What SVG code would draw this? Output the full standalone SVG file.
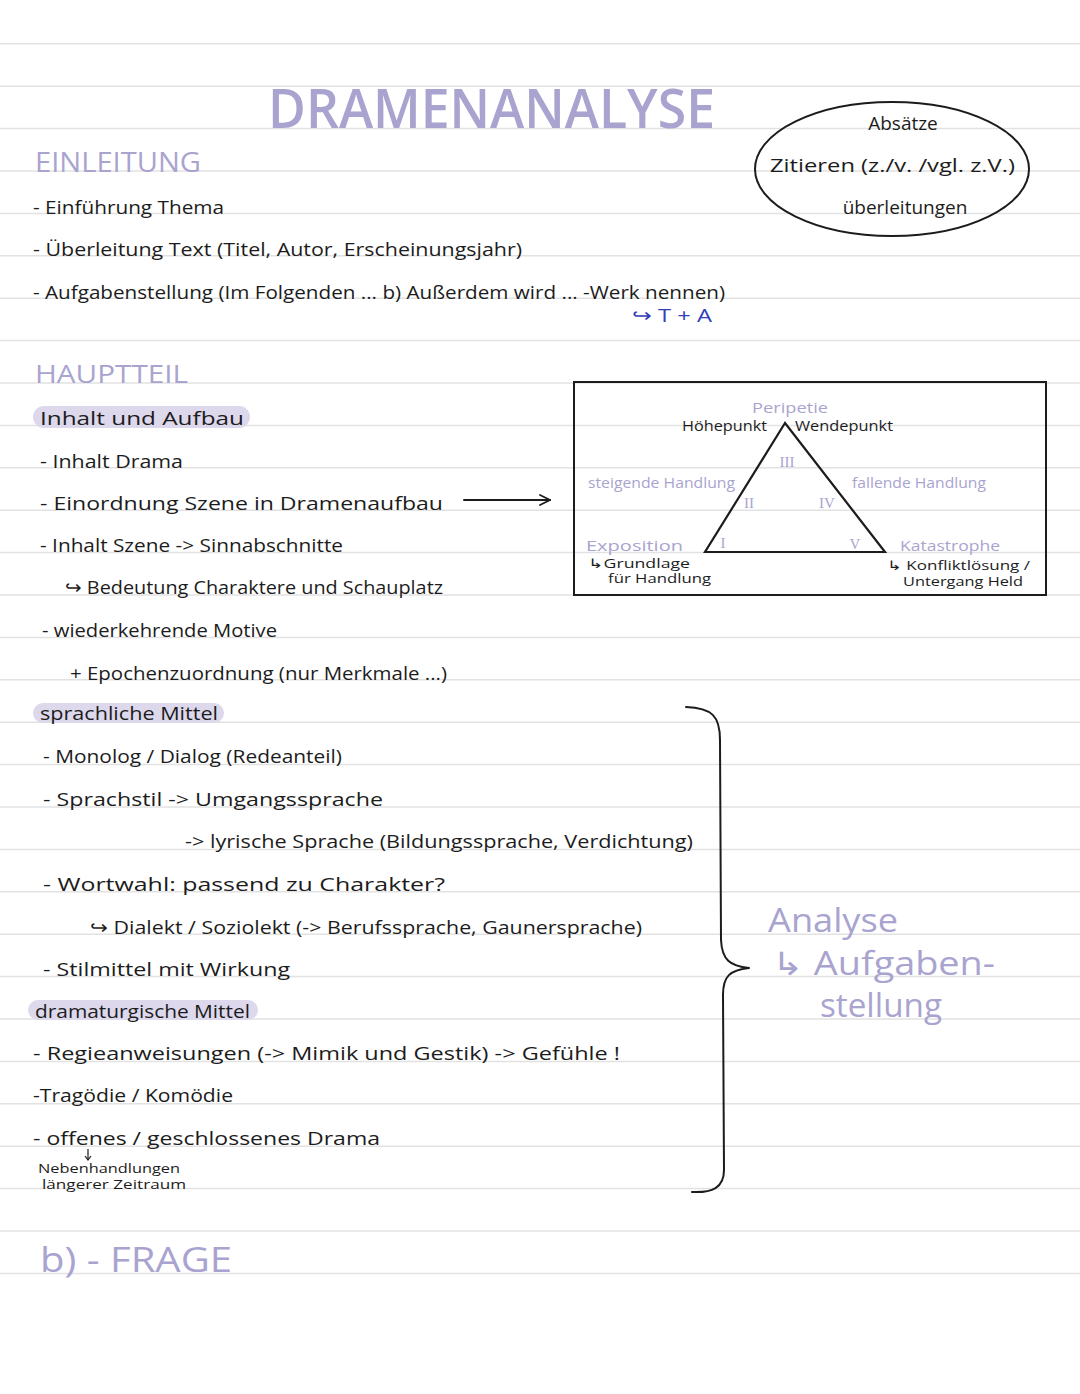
<svg xmlns="http://www.w3.org/2000/svg" width="1080" height="1394" viewBox="0 0 1080 1394">
<style>
  .rule{stroke:#e2e2e2;stroke-width:1.5}
  text{font-family:"Open Sans","Liberation Sans",sans-serif;fill:#1c1c1c}
  .t{font-size:19px}
  .s{font-size:15px}
  .xs{font-size:12.5px}
  .p{fill:#a9a4cf}
  .hl{fill:#ddd8ec}
  .blue{fill:#3340b8}
  .ln{fill:none;stroke:#1c1c1c;stroke-width:2;stroke-linecap:round;stroke-linejoin:round}
  .roman{font-family:"Liberation Serif",serif;font-size:15px;fill:#a9a4cf}
</style>
<defs>
  <marker id="open" viewBox="0 0 12 12" refX="11" refY="6" markerWidth="12" markerHeight="12" markerUnits="userSpaceOnUse" orient="auto">
    <path d="M1,1 L11,6 L1,11" fill="none" stroke="#1c1c1c" stroke-width="1.8" stroke-linecap="round"/>
  </marker>
  <marker id="small" viewBox="0 0 8 8" refX="4" refY="7" markerWidth="8" markerHeight="8" markerUnits="userSpaceOnUse" orient="0">
    <path d="M1,3 L4,7 L7,3" fill="none" stroke="#1c1c1c" stroke-width="1.2"/>
  </marker>
</defs>
<rect width="1080" height="1394" fill="#ffffff"/>
<g id="rules">
  <line class="rule" x1="0" x2="1080" y1="43.8" y2="43.8"/>
  <line class="rule" x1="0" x2="1080" y1="86.2" y2="86.2"/>
  <line class="rule" x1="0" x2="1080" y1="128.6" y2="128.6"/>
  <line class="rule" x1="0" x2="1080" y1="171" y2="171"/>
  <line class="rule" x1="0" x2="1080" y1="213.4" y2="213.4"/>
  <line class="rule" x1="0" x2="1080" y1="255.8" y2="255.8"/>
  <line class="rule" x1="0" x2="1080" y1="298.2" y2="298.2"/>
  <line class="rule" x1="0" x2="1080" y1="340.6" y2="340.6"/>
  <line class="rule" x1="0" x2="1080" y1="383" y2="383"/>
  <line class="rule" x1="0" x2="1080" y1="425.4" y2="425.4"/>
  <line class="rule" x1="0" x2="1080" y1="467.8" y2="467.8"/>
  <line class="rule" x1="0" x2="1080" y1="510.2" y2="510.2"/>
  <line class="rule" x1="0" x2="1080" y1="552.6" y2="552.6"/>
  <line class="rule" x1="0" x2="1080" y1="595" y2="595"/>
  <line class="rule" x1="0" x2="1080" y1="637.4" y2="637.4"/>
  <line class="rule" x1="0" x2="1080" y1="679.8" y2="679.8"/>
  <line class="rule" x1="0" x2="1080" y1="722.2" y2="722.2"/>
  <line class="rule" x1="0" x2="1080" y1="764.6" y2="764.6"/>
  <line class="rule" x1="0" x2="1080" y1="807" y2="807"/>
  <line class="rule" x1="0" x2="1080" y1="849.4" y2="849.4"/>
  <line class="rule" x1="0" x2="1080" y1="891.8" y2="891.8"/>
  <line class="rule" x1="0" x2="1080" y1="934.2" y2="934.2"/>
  <line class="rule" x1="0" x2="1080" y1="976.6" y2="976.6"/>
  <line class="rule" x1="0" x2="1080" y1="1019" y2="1019"/>
  <line class="rule" x1="0" x2="1080" y1="1061.4" y2="1061.4"/>
  <line class="rule" x1="0" x2="1080" y1="1103.8" y2="1103.8"/>
  <line class="rule" x1="0" x2="1080" y1="1146.2" y2="1146.2"/>
  <line class="rule" x1="0" x2="1080" y1="1188.6" y2="1188.6"/>
  <line class="rule" x1="0" x2="1080" y1="1231" y2="1231"/>
  <line class="rule" x1="0" x2="1080" y1="1273.4" y2="1273.4"/>
</g>

<g id="title"><text class="p" x="268" y="128" font-size="54" font-weight="600" textLength="447" lengthAdjust="spacingAndGlyphs">DRAMENANALYSE</text></g>

<g id="einleitung">
  <text class="p" x="35" y="172" font-size="27" textLength="166" lengthAdjust="spacingAndGlyphs">EINLEITUNG</text>
  <text class="t" x="33" y="214" textLength="191" lengthAdjust="spacingAndGlyphs">- Einführung Thema</text>
  <text class="t" x="33" y="256" textLength="489" lengthAdjust="spacingAndGlyphs">- Überleitung Text  (Titel, Autor, Erscheinungsjahr)</text>
  <text class="t" x="33" y="299" textLength="692" lengthAdjust="spacingAndGlyphs">- Aufgabenstellung  (Im Folgenden ...  b) Außerdem wird ... -Werk nennen)</text>
  <text class="t blue" x="632" y="322" textLength="80" lengthAdjust="spacingAndGlyphs">↪ T + A</text>
</g>

<g id="hinweise">
  <ellipse cx="892" cy="169" rx="137" ry="67" fill="none" stroke="#1c1c1c" stroke-width="2"/>
  <text class="t" x="903" y="130" text-anchor="middle">Absätze</text>
  <text class="t" x="770" y="172" textLength="245" lengthAdjust="spacingAndGlyphs">Zitieren  (z./v. /vgl. z.V.)</text>
  <text class="t" x="905" y="214" text-anchor="middle">überleitungen</text>
</g>

<g id="hauptteil">
  <text class="p" x="35" y="383" font-size="26" textLength="153" lengthAdjust="spacingAndGlyphs">HAUPTTEIL</text>
</g>

<g id="inhalt-aufbau">
  <rect class="hl" x="33" y="406" width="217" height="22" rx="11"/>
  <text class="t" x="40" y="425" textLength="204" lengthAdjust="spacingAndGlyphs">Inhalt und Aufbau</text>
  <text class="t" x="40" y="468" textLength="143" lengthAdjust="spacingAndGlyphs">- Inhalt Drama</text>
  <text class="t" x="40" y="510" textLength="403" lengthAdjust="spacingAndGlyphs">- Einordnung Szene in Dramenaufbau</text>
  <text class="t" x="40" y="552" textLength="303" lengthAdjust="spacingAndGlyphs">- Inhalt Szene -&gt; Sinnabschnitte</text>
  <text class="t" x="65" y="594" textLength="378" lengthAdjust="spacingAndGlyphs">↪ Bedeutung Charaktere und Schauplatz</text>
  <text class="t" x="42" y="637" textLength="235" lengthAdjust="spacingAndGlyphs">- wiederkehrende Motive</text>
  <text class="t" x="70" y="680" textLength="377" lengthAdjust="spacingAndGlyphs">+ Epochenzuordnung  (nur Merkmale ...)</text>
</g>

<g id="dramenaufbau">
  <rect x="574" y="382" width="472" height="213" fill="none" stroke="#1c1c1c" stroke-width="2"/>
  <polygon points="785,423 705,552 885,552" fill="none" stroke="#1c1c1c" stroke-width="2.2" stroke-linejoin="miter"/>
  <text class="s p" x="752" y="413" textLength="76" lengthAdjust="spacingAndGlyphs">Peripetie</text>
  <text class="s" x="682" y="431" textLength="85" lengthAdjust="spacingAndGlyphs">Höhepunkt</text>
  <text class="s" x="795" y="431" textLength="98" lengthAdjust="spacingAndGlyphs">Wendepunkt</text>
  <text class="s p" x="588" y="488" textLength="147" lengthAdjust="spacingAndGlyphs">steigende Handlung</text>
  <text class="s p" x="852" y="488" textLength="134" lengthAdjust="spacingAndGlyphs">fallende Handlung</text>
  <text class="roman" x="787" y="467" text-anchor="middle">III</text>
  <text class="roman" x="749" y="508" text-anchor="middle">II</text>
  <text class="roman" x="827" y="508" text-anchor="middle">IV</text>
  <text class="roman" x="723" y="548" text-anchor="middle">I</text>
  <text class="roman" x="855" y="549" text-anchor="middle">V</text>
  <text class="s p" x="586" y="551" textLength="97" lengthAdjust="spacingAndGlyphs">Exposition</text>
  <text class="xs" x="588" y="568" textLength="102" lengthAdjust="spacingAndGlyphs">↳Grundlage</text>
  <text class="xs" x="608" y="583" textLength="103" lengthAdjust="spacingAndGlyphs">für Handlung</text>
  <text class="s p" x="900" y="551" textLength="100" lengthAdjust="spacingAndGlyphs">Katastrophe</text>
  <text class="xs" x="887" y="570" textLength="143" lengthAdjust="spacingAndGlyphs">↳ Konfliktlösung /</text>
  <text class="xs" x="903" y="586" textLength="120" lengthAdjust="spacingAndGlyphs">Untergang Held</text>
</g>

<g id="sprachliche-mittel">
  <rect class="hl" x="33" y="703" width="191" height="20" rx="10"/>
  <text class="t" x="40" y="720" textLength="178" lengthAdjust="spacingAndGlyphs">sprachliche Mittel</text>
  <text class="t" x="43" y="763" textLength="299" lengthAdjust="spacingAndGlyphs">- Monolog / Dialog (Redeanteil)</text>
  <text class="t" x="43" y="806" textLength="340" lengthAdjust="spacingAndGlyphs">- Sprachstil   -&gt;  Umgangssprache</text>
  <text class="t" x="185" y="848" textLength="508" lengthAdjust="spacingAndGlyphs">-&gt;  lyrische Sprache  (Bildungssprache, Verdichtung)</text>
  <text class="t" x="43" y="891" font-size="22" textLength="402" lengthAdjust="spacingAndGlyphs">- Wortwahl: passend zu Charakter?</text>
  <text class="t" x="90" y="934" textLength="552" lengthAdjust="spacingAndGlyphs">↪ Dialekt  / Soziolekt (-&gt; Berufssprache, Gaunersprache)</text>
  <text class="t" x="43" y="976" textLength="247" lengthAdjust="spacingAndGlyphs">- Stilmittel  mit  Wirkung</text>
</g>

<g id="dramaturgische-mittel">
  <rect class="hl" x="28" y="1000" width="230" height="20" rx="10"/>
  <text class="t" x="35" y="1018" textLength="215" lengthAdjust="spacingAndGlyphs">dramaturgische Mittel</text>
  <text class="t" x="33" y="1060" textLength="587" lengthAdjust="spacingAndGlyphs">- Regieanweisungen  (-&gt; Mimik und Gestik)  -&gt; Gefühle !</text>
  <text class="t" x="33" y="1102" textLength="200" lengthAdjust="spacingAndGlyphs">-Tragödie / Komödie</text>
  <text class="t" x="33" y="1145" textLength="347" lengthAdjust="spacingAndGlyphs">- offenes / geschlossenes  Drama</text>
  <text class="xs" x="38" y="1173" textLength="142" lengthAdjust="spacingAndGlyphs">Nebenhandlungen</text>
  <text class="xs" x="42" y="1189" textLength="144" lengthAdjust="spacingAndGlyphs">längerer Zeitraum</text>
</g>

<g id="analyse">
  <text class="p" x="768" y="932" font-size="32" textLength="130" lengthAdjust="spacingAndGlyphs">Analyse</text>
  <text class="p" x="772" y="975" font-size="32" textLength="223" lengthAdjust="spacingAndGlyphs">↳ Aufgaben-</text>
  <text class="p" x="820" y="1017" font-size="32" textLength="122" lengthAdjust="spacingAndGlyphs">stellung</text>
</g>

<g id="frage">
  <text class="p" x="40" y="1272" font-size="34" textLength="192" lengthAdjust="spacingAndGlyphs">b) - FRAGE</text>
</g>

<g id="connectors">
  <line class="ln" x1="464" y1="500" x2="550" y2="500" marker-end="url(#open)"/>
  <line x1="88" y1="1149" x2="88" y2="1160" stroke="#1c1c1c" stroke-width="1.2" marker-end="url(#small)"/>
  <path class="ln" d="M686,707 C712,708 720,716 720,740 L721,940 C722,960 730,966 749,968 C730,970 723,976 723,995 L724,1170 C724,1188 712,1193 692,1192"/>
</g>
</svg>
